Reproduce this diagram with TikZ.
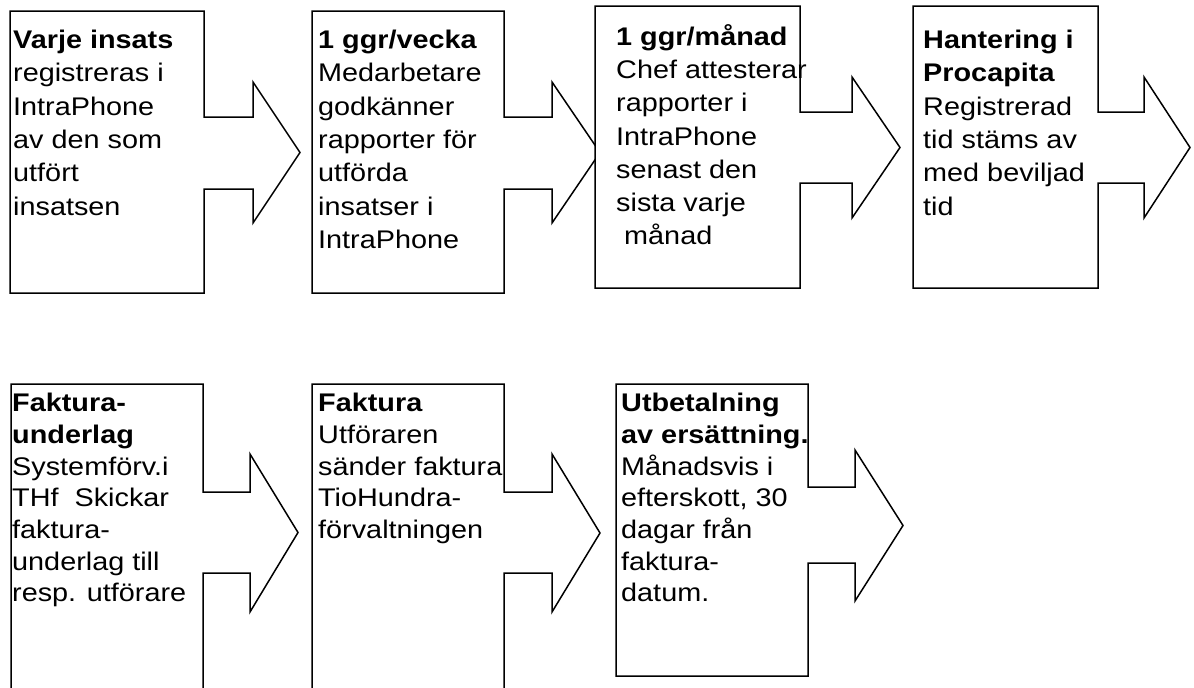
\documentclass[tikz,border=0pt]{standalone}
\usepackage{fontspec}
\setmainfont{Liberation Sans}[FakeStretch=1.13]
\usetikzlibrary{positioning}

\begin{document}
\begin{tikzpicture}[x=1pt, y=-1pt,
						stepshape/.style={draw, line width=1.5pt, line join=miter, fill=white},
						steptext/.style={anchor=north west, yshift=20pt, align=left, inner sep=0pt, execute at begin node=\rule{0pt}{20pt}, font=\fontsize{25.5}{#1}\selectfont},
						steptext/.default=31.7,]
		\useasboundingbox (0,0) rectangle (1194,688);
		\clip (0,0) rectangle (1194,688);

		% first row
		\draw[stepshape] (10,11) -| (204,117) -| (253,82) -- (300,152.5) -- (253,223) |- (204,189) |- (10,293) -- cycle;
		\draw[stepshape] (312,11) -| (504,117) -| (552,82) -- (600,152.5) -- (552,223) |- (504,189) |- (312,293) -- cycle;
		\draw[stepshape] (595,6) -| (800,112) -| (852,77) -- (900,147.5) -- (852,218) |- (800,183) |- (595,288) -- cycle;
		\draw[stepshape] (913,6) -| (1098,112) -| (1144,77) -- (1190,147.5) -- (1144,218) |- (1098,183) |- (913,288) -- cycle;

		% second row
		\draw[stepshape] (11,384) -| (203,492) -| (250,454) -- (298,532.5) -- (250,612) |- (203,573) |- (11,700) -- cycle;
		\draw[stepshape] (312,384) -| (504,492) -| (552,454) -- (600,533) -- (552,612) |- (504,573) |- (312,700) -- cycle;
		\draw[stepshape] (616,384) -| (808,487) -| (855,450) -- (903,525.5) -- (855,601) |- (808,563) |- (616,676) -- cycle;

		\node (insats) [steptext=33.3] at (13,50) {\textbf{Varje insats}\\registreras i\\IntraPhone\\av den som\\utfört\\insatsen};
		\node (vecka) [steptext=33.3] at (318,50) {\textbf{1 ggr/vecka}\\Medarbetare\\godkänner\\rapporter för\\utförda\\insatser i\\IntraPhone};
		\node (manad) [steptext=33.3] at (616,44) {\textbf{1 ggr/månad}\\Chef attesterar\\rapporter i\\IntraPhone\\senast den\\sista varje\\\ månad};
		\node (procapita) [steptext=33.3] at (923,50) {\textbf{Hantering i}\\\textbf{Procapita}\\Registrerad\\tid stäms av\\med beviljad\\tid};

		\node (underlag) [steptext] at (12,413) {\textbf{Faktura-}\\\textbf{underlag}\\Systemförv.i\\THf\ \ Skickar\\faktura-\\underlag till\\resp. utförare};
		\node (faktura) [steptext] at (318,413) {\textbf{Faktura}\\Utföraren\\sänder faktura\\TioHundra-\\förvaltningen};
		\node (utbetalning) [steptext] at (621,413) {\textbf{Utbetalning}\\\textbf{av ersättning.}\\Månadsvis i\\efterskott, 30\\dagar från\\faktura-\\datum.};
	\end{tikzpicture}
\end{document}
